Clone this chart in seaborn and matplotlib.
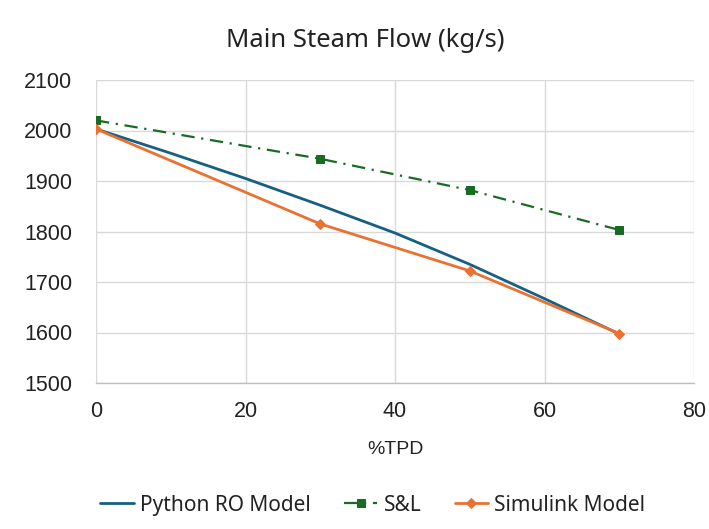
import matplotlib
matplotlib.use("Agg")
import matplotlib.pyplot as plt
import seaborn as sns
import pandas as pd

# Data
python_x = [0, 10, 20, 30, 40, 50, 60, 70]
python_y = [2003, 1955, 1905, 1852, 1797, 1735, 1667, 1597]

sl_x = [0, 30, 50, 70]
sl_y = [2020, 1944, 1882, 1803]

simulink_x = [0, 30, 50, 70]
simulink_y = [2003, 1815, 1722, 1598]

x_ticks = [0, 20, 40, 60, 80]
y_ticks = [1500, 1600, 1700, 1800, 1900, 2000, 2100]

title = "Main Steam Flow (kg/s)"
x_label = "%TPD"

sns.set_theme(style="white")
plt.rcParams["font.family"] = ["Liberation Sans", "DejaVu Sans"]

fig = plt.figure(figsize=(7.09, 5.29), dpi=100)
ax = fig.add_axes([96 / 709, 1 - 383 / 529, (694 - 96) / 709, (383 - 80) / 529])

df_py = pd.DataFrame({"x": python_x, "y": python_y})
df_sl = pd.DataFrame({"x": sl_x, "y": sl_y})
df_si = pd.DataFrame({"x": simulink_x, "y": simulink_y})

sns.lineplot(data=df_py, x="x", y="y", ax=ax, color="#156082", linewidth=2.0,
             label="Python RO Model")
sns.lineplot(data=df_sl, x="x", y="y", ax=ax, color="#196B24", linewidth=1.6,
             linestyle=(0, (6, 3, 1, 3)), marker="s", markersize=6,
             markeredgecolor="#196B24", label="S&L")
sns.lineplot(data=df_si, x="x", y="y", ax=ax, color="#E97132", linewidth=2.0,
             marker="D", markersize=5, markeredgecolor="#E97132",
             label="Simulink Model")

ax.set_xlim(0, 80)
ax.set_ylim(1500, 2100)
ax.set_xticks(x_ticks)
ax.set_yticks(y_ticks)
ax.tick_params(axis="both", labelsize=15.5, colors="#222222", length=0)
ax.tick_params(axis="y", pad=17)
ax.tick_params(axis="x", pad=13)
ax.grid(True, color="#d9d9d9", linewidth=1.0)
ax.set_axisbelow(True)
for side in ["top", "right", "left"]:
    ax.spines[side].set_visible(False)
ax.spines["bottom"].set_color("#bfbfbf")
ax.spines["bottom"].set_linewidth(1.0)

ax.set_xlabel(x_label, fontsize=14, color="#222222", labelpad=14)
ax.set_ylabel("")
fig.text(365 / 709, 1 - 40 / 529, title, ha="center", va="center",
         fontsize=18.5, color="#222222", family=["Noto Sans", "DejaVu Sans"])

leg = ax.legend(loc="center", bbox_to_anchor=(0.463, -0.403), ncol=3,
                frameon=False, handlelength=1.6,
                columnspacing=1.6, handletextpad=0.3,
                prop={"family": ["Noto Sans", "DejaVu Sans"], "size": 15})
for t in leg.get_texts():
    t.set_color("#222222")

fig.savefig("out.png", dpi=100, facecolor="white")
